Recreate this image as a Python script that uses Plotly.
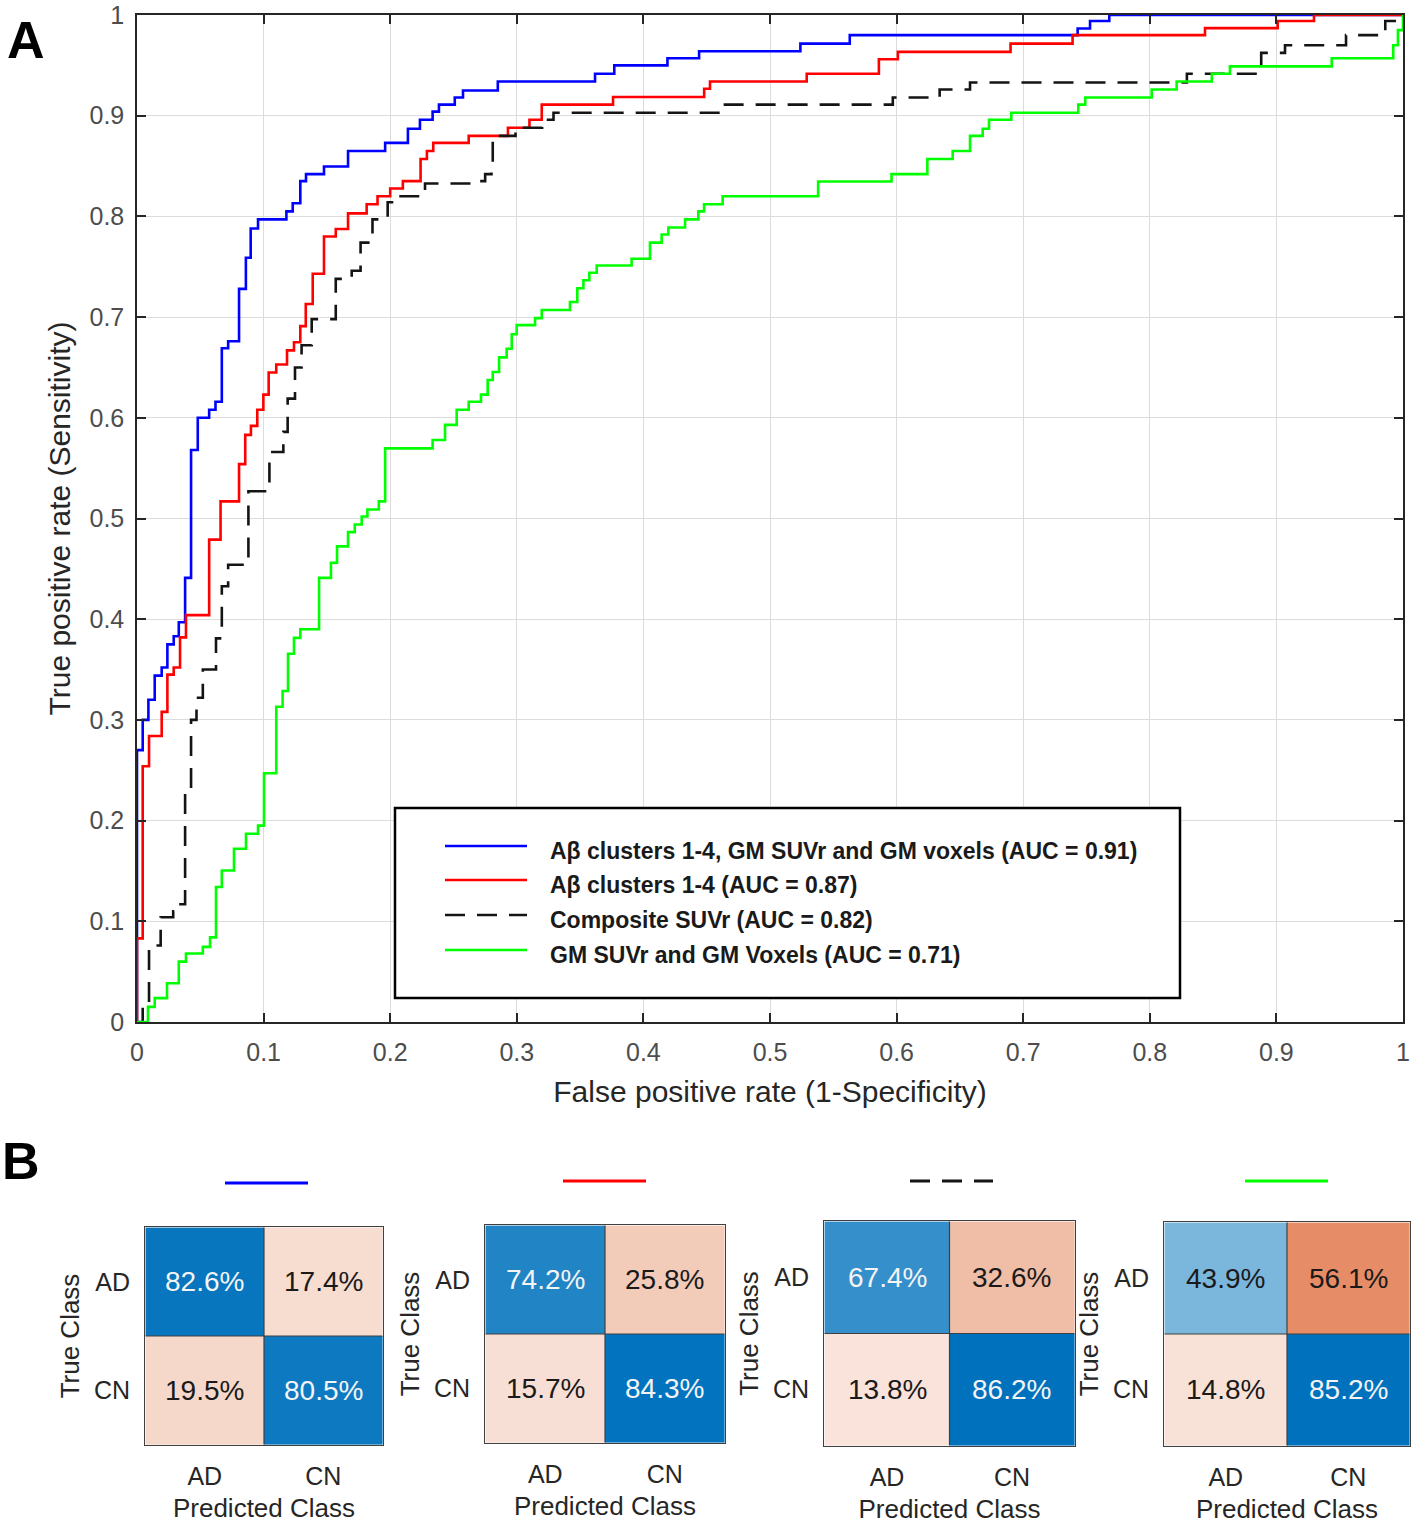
import plotly.graph_objects as go

W, H = 1416, 1530
def X(px): return px / W
def Y(py): return 1 - py / H

# ---------------- ROC data (step vertices: at fpr x the curve rises to tpr y) ----------------
fpr_blue = [0, 0, 0.0045, 0.009, 0.014, 0.0195, 0.024, 0.029, 0.033, 0.038, 0.0427, 0.048, 0.057,
            0.062, 0.067, 0.072, 0.0806, 0.086, 0.0898, 0.0956, 0.118, 0.123, 0.129, 0.1335, 0.1477,
            0.1667, 0.196, 0.214, 0.2235, 0.2335, 0.2385, 0.251, 0.2575, 0.285, 0.3618, 0.377, 0.419,
            0.444, 0.524, 0.563, 0.743, 0.7528, 0.768, 1.0]
tpr_blue = [0, 0.27, 0.30, 0.32, 0.344, 0.352, 0.375, 0.383, 0.397, 0.441, 0.568, 0.60, 0.608,
            0.616, 0.669, 0.676, 0.728, 0.759, 0.788, 0.797, 0.805, 0.813, 0.835, 0.842, 0.8495,
            0.865, 0.873, 0.887, 0.896, 0.904, 0.911, 0.918, 0.925, 0.934, 0.9416, 0.95, 0.957,
            0.964, 0.9716, 0.98, 0.9866, 0.994, 1.0, 1.0]

fpr_red = [0, 0, 0.0045, 0.0095, 0.0195, 0.024, 0.029, 0.034, 0.0387, 0.057, 0.066, 0.0806, 0.0855,
           0.09, 0.095, 0.0998, 0.104, 0.11, 0.1185, 0.124, 0.129, 0.1333, 0.1388, 0.1477, 0.157,
           0.1667, 0.1814, 0.19, 0.2, 0.21, 0.224, 0.229, 0.234, 0.262, 0.293, 0.31, 0.3197, 0.376,
           0.448, 0.4526, 0.529, 0.586, 0.601, 0.69, 0.739, 0.8436, 0.901, 0.9297, 1.0]
tpr_red = [0, 0.083, 0.254, 0.284, 0.308, 0.345, 0.352, 0.382, 0.404, 0.479, 0.517, 0.554, 0.583,
           0.592, 0.608, 0.623, 0.645, 0.653, 0.667, 0.675, 0.691, 0.713, 0.743, 0.78, 0.7875,
           0.803, 0.812, 0.82, 0.8277, 0.835, 0.857, 0.865, 0.873, 0.88, 0.888, 0.896, 0.911, 0.9185,
           0.9267, 0.934, 0.9416, 0.956, 0.9634, 0.9716, 0.98, 0.987, 0.994, 1.0, 1.0]

fpr_black = [0, 0.0045, 0.0095, 0.0187, 0.0286, 0.033, 0.038, 0.0427, 0.047, 0.052, 0.0624, 0.067,
             0.072, 0.088, 0.1046, 0.1156, 0.119, 0.1248, 0.13, 0.138, 0.157, 0.1696, 0.1766, 0.186,
             0.198, 0.205, 0.2275, 0.267, 0.275, 0.28, 0.281, 0.299, 0.32, 0.329, 0.463, 0.597,
             0.634, 0.658, 0.8293, 0.888, 0.9068, 0.955, 0.986, 1.0]
tpr_black = [0, 0.015, 0.076, 0.104, 0.11, 0.117, 0.227, 0.30, 0.322, 0.35, 0.381, 0.4327,
             0.454, 0.527, 0.566, 0.586, 0.619, 0.65, 0.672, 0.698, 0.738, 0.746, 0.774, 0.797,
             0.814, 0.82, 0.8327, 0.835, 0.842, 0.852, 0.88, 0.888, 0.896, 0.903, 0.911, 0.918,
             0.926, 0.933, 0.9416, 0.9624, 0.97, 0.98, 0.994, 1.0]

fpr_green = [0, 0.0087, 0.014, 0.0237, 0.033, 0.0387, 0.052, 0.0577, 0.0624, 0.067, 0.0766, 0.0861,
             0.0956, 0.1003, 0.11, 0.115, 0.1193, 0.124, 0.129, 0.1438, 0.1532, 0.158, 0.1667, 0.172,
             0.1775, 0.182, 0.191, 0.196, 0.2335, 0.2433, 0.2525, 0.262, 0.2717, 0.277, 0.281, 0.286,
             0.292, 0.296, 0.2999, 0.3144, 0.3197, 0.342, 0.3478, 0.3526, 0.3573, 0.3631, 0.3907,
             0.4052, 0.4144, 0.4197, 0.4329, 0.4434, 0.4479, 0.4626, 0.538, 0.596, 0.6243, 0.6443,
             0.658, 0.668, 0.673, 0.6906, 0.7435, 0.749, 0.8015, 0.8212, 0.849, 0.8633, 0.9437,
             0.9923, 0.996, 1.0]
tpr_green = [0, 0.015, 0.0237, 0.0385, 0.06, 0.068, 0.0746, 0.084, 0.134, 0.1505, 0.172, 0.187,
             0.195, 0.247, 0.313, 0.3287, 0.3657, 0.3815, 0.39, 0.441, 0.456, 0.4723, 0.4865, 0.494,
             0.502, 0.509, 0.517, 0.5696, 0.578, 0.593, 0.608, 0.616, 0.623, 0.6376, 0.6455, 0.66,
             0.6686, 0.683, 0.692, 0.699, 0.707, 0.715, 0.7287, 0.7366, 0.744, 0.7513, 0.758,
             0.774, 0.782, 0.789, 0.797, 0.805, 0.812, 0.82, 0.8346, 0.842, 0.857, 0.865,
             0.88, 0.887, 0.896, 0.903, 0.911, 0.918, 0.926, 0.934, 0.9416, 0.949, 0.957,
             0.97, 0.985, 1.0]

series_names = ["Aβ clusters 1-4, GM SUVr and GM voxels (AUC = 0.91)",
                "Aβ clusters 1-4 (AUC = 0.87)",
                "Composite SUVr (AUC = 0.82)",
                "GM SUVr and GM Voxels (AUC = 0.71)"]

xtick_vals = [0, 0.1, 0.2, 0.3, 0.4, 0.5, 0.6, 0.7, 0.8, 0.9, 1]
xtick_text = ["0", "0.1", "0.2", "0.3", "0.4", "0.5", "0.6", "0.7", "0.8", "0.9", "1"]
ytick_vals = xtick_vals
ytick_text = xtick_text

# ---------------- Confusion matrices (row = true class, col = predicted class), % ----------------
classes = ["AD", "CN"]
cm1 = [[82.6, 17.4], [19.5, 80.5]]
cm2 = [[74.2, 25.8], [15.7, 84.3]]
cm3 = [[67.4, 32.6], [13.8, 86.2]]
cm4 = [[43.9, 56.1], [14.8, 85.2]]

FONT = "Liberation Sans, Arial, Helvetica, sans-serif"
colors = ["rgb(0,0,255)", "rgb(255,0,0)", "rgb(20,20,20)", "rgb(0,255,0)"]
dashes = ["solid", "solid", "20px,12px", "solid"]

fig = go.Figure()
curves = [(fpr_blue, tpr_blue), (fpr_red, tpr_red), (fpr_black, tpr_black), (fpr_green, tpr_green)]
for (fx, ty), c, d, nm in zip(curves, colors, dashes, series_names):
    fig.add_trace(go.Scatter(x=fx, y=ty, mode="lines", line=dict(color=c, width=2.6, dash=d, shape="hv"),
                             name=nm, showlegend=False, xaxis="x", yaxis="y", hoverinfo="skip"))

# ---------------- Layout ----------------
layout = dict(
    template="none",
    width=W, height=H, margin=dict(l=0, r=0, t=0, b=0, pad=0),
    paper_bgcolor="white", plot_bgcolor="white",
    font=dict(family=FONT, color="#262626"),
    showlegend=False,
)
layout["xaxis"] = dict(domain=[X(137), X(1403)], range=[0, 1], anchor="y", automargin=False,
                       tickvals=xtick_vals, ticktext=xtick_text, ticklabeloverflow="allow",
                       showgrid=True, gridcolor="#dcdcdc", gridwidth=1, zeroline=False,
                       showline=True, linecolor="#262626", linewidth=1.5, mirror="ticks",
                       ticks="inside", ticklen=9, tickwidth=1.5, tickcolor="#262626",
                       tickfont=dict(size=25, color="#4d4d4d", family=FONT), ticklabelstandoff=7,
                       title=dict(text="False positive rate (1-Specificity)",
                                  font=dict(size=30, color="#262626", family=FONT), standoff=16))
layout["yaxis"] = dict(domain=[Y(1022), Y(15)], range=[0, 1], anchor="x", automargin=False,
                       tickvals=ytick_vals, ticktext=ytick_text, ticklabeloverflow="allow",
                       showgrid=True, gridcolor="#dcdcdc", gridwidth=1, zeroline=False,
                       showline=True, linecolor="#262626", linewidth=1.5, mirror="ticks",
                       ticks="inside", ticklen=9, tickwidth=1.5, tickcolor="#262626",
                       tickfont=dict(size=25, color="#4d4d4d", family=FONT), ticklabelstandoff=6,
                       title=dict(text="True positive rate (Sensitivity)",
                                  font=dict(size=30, color="#262626", family=FONT), standoff=10))

shapes = []
annotations = []

# manual legend
shapes.append(dict(type="rect", xref="paper", yref="paper", x0=X(395), x1=X(1180), y0=Y(998), y1=Y(808),
                   line=dict(color="black", width=2.5), fillcolor="white", layer="above"))
leg_y = [846, 880, 915, 950]
for i, (c, d, nm) in enumerate(zip(colors, dashes, series_names)):
    shapes.append(dict(type="line", xref="paper", yref="paper", x0=X(445), x1=X(527),
                       y0=Y(leg_y[i]), y1=Y(leg_y[i]), line=dict(color=c, width=2.6, dash=d), layer="above"))
    annotations.append(dict(text="<b>%s</b>" % nm, xref="paper", yref="paper", x=X(548), y=Y(leg_y[i] + 5),
                            xanchor="left", yanchor="middle", showarrow=False,
                            font=dict(size=23, color="#1a1a1a", family=FONT)))

# panel letters
annotations.append(dict(text="<b>A</b>", xref="paper", yref="paper", x=X(26), y=Y(40), xanchor="center",
                        yanchor="middle", showarrow=False, font=dict(size=52, color="black", family=FONT)))
annotations.append(dict(text="<b>B</b>", xref="paper", yref="paper", x=X(21), y=Y(1161), xanchor="center",
                        yanchor="middle", showarrow=False, font=dict(size=52, color="black", family=FONT)))

# confusion charts
cms = [cm1, cm2, cm3, cm4]
boxes = [(145, 383, 1227, 1445), (485, 725, 1225, 1443), (824, 1075, 1221, 1446), (1164, 1410, 1222, 1446)]
title_lines = [(225, 308, 1183), (563, 646, 1181), (910, 993, 1181), (1245, 1328, 1181)]
cscale = [[0, "rgb(217,83,25)"], [0.5, "rgb(255,255,255)"], [1, "rgb(0,114,189)"]]
for k, (cm, (x0, x1, y0, y1), (lx0, lx1, ly)) in enumerate(zip(cms, boxes, title_lines)):
    n = k + 2
    xa, ya = "x%d" % n, "y%d" % n
    z = [[(cm[r][c] / 100.0) * (1 if r == c else -1) for c in range(2)] for r in range(2)]
    fig.add_trace(go.Heatmap(z=z, x=classes, y=classes, colorscale=cscale, zmin=-0.85, zmax=0.85,
                             showscale=False, xaxis=xa, yaxis=ya, hoverinfo="skip"))
    layout["xaxis%d" % n] = dict(domain=[X(x0), X(x1)], anchor=ya, type="category", automargin=False,
                                 showgrid=False, zeroline=False, showline=True, mirror=True,
                                 linecolor="#404040", linewidth=1, ticks="",
                                 tickfont=dict(size=25, color="#262626", family=FONT), ticklabelstandoff=9,
                                 title=dict(text="Predicted Class", font=dict(size=26, color="#262626", family=FONT),
                                            standoff=9))
    layout["yaxis%d" % n] = dict(domain=[Y(y1), Y(y0)], anchor=xa, type="category", autorange="reversed",
                                 automargin=False,
                                 showgrid=False, zeroline=False, showline=True, mirror=True,
                                 linecolor="#404040", linewidth=1, ticks="",
                                 tickfont=dict(size=25, color="#262626", family=FONT), ticklabelstandoff=9,
                                 title=dict(text="True Class", font=dict(size=26, color="#262626", family=FONT),
                                            standoff=6))
    # inner cell borders
    shapes.append(dict(type="line", xref=xa, yref=ya, x0=0.5, x1=0.5, y0=-0.5, y1=1.5,
                       line=dict(color="#404040", width=1.2), layer="above"))
    shapes.append(dict(type="line", xref=xa, yref=ya, x0=-0.5, x1=1.5, y0=0.5, y1=0.5,
                       line=dict(color="#404040", width=1.2), layer="above"))
    for r in range(2):
        for c in range(2):
            v = cm[r][c]
            white = (r == c) and v > 50
            annotations.append(dict(text="%.1f%%" % v, xref=xa, yref=ya, x=classes[c], y=classes[r],
                                    showarrow=False, xanchor="center", yanchor="middle",
                                    font=dict(size=28, color="#f4f4f4" if white else "#1a1a1a", family=FONT)))
    # line-style key above each chart
    shapes.append(dict(type="line", xref="paper", yref="paper", x0=X(lx0), x1=X(lx1), y0=Y(ly), y1=Y(ly),
                       line=dict(color=colors[k], width=3, dash=dashes[k])))

layout["shapes"] = shapes
layout["annotations"] = annotations
fig.update_layout(**layout)
fig.write_html("out.html", config={"displayModeBar": False},
               post_script="document.body.style.margin='0';document.body.style.overflow='hidden';")
